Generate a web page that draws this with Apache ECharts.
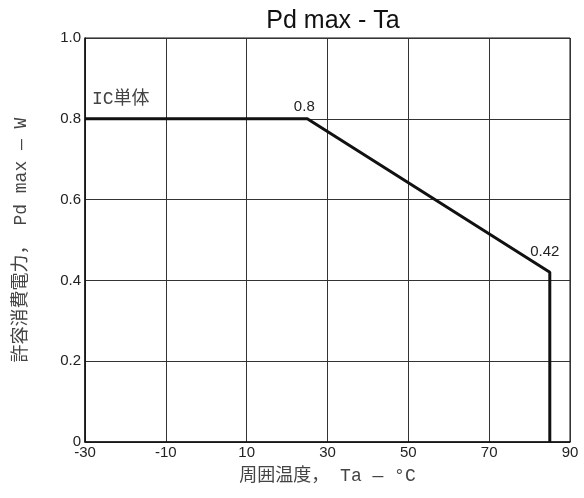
<!DOCTYPE html>
<html><head><meta charset="utf-8">
<script src="https://cdn.jsdelivr.net/npm/echarts@6/dist/echarts.min.js"></script>
<style>html,body{margin:0;padding:0;background:#fff}#c{width:584px;height:498px}</style>
</head><body><div id="c"></div>
<script>
const titleText = 'Pd max - Ta';
const xTicks = [-30, -10, 10, 30, 50, 70, 90];
const yTicks = [0, 0.2, 0.4, 0.6, 0.8, 1.0];
const tempX = [-30, 25, 85, 85];
const powerY = [0.8, 0.8, 0.42, 0];
const annoText = ['IC単体', '0.8', '0.42'];
const annoX = [-30, 25, 85];
const annoY = [0.8, 0.8, 0.42];
const xName = '周囲温度， Ta — °C';
const yName = '許容消費電力， Pd max — W';

const mono = '"Liberation Mono","Noto Sans CJK JP",monospace';
const sans = '"Liberation Sans",Arial,sans-serif';
const chart = echarts.init(document.getElementById('c'));
chart.setOption({
  animation: false,
  title: { text: titleText, left: 328, top: 4, textAlign: 'center',
    textStyle: { fontFamily: sans, fontWeight: 'normal', fontSize: 25, color: '#111' } },
  grid: { left: 85, right: 14, top: 38, bottom: 56, show: true, borderColor: '#111', borderWidth: 1 },
  xAxis: {
    type: 'value', min: -30, max: 90, interval: 20,
    axisLine: { show: true, onZero: false, lineStyle: { color: '#111', width: 1.5 } },
    axisTick: { show: false },
    splitLine: { show: true, lineStyle: { color: '#333', width: 1 } },
    axisLabel: { fontFamily: sans, fontSize: 15, color: '#222', margin: 3,
      formatter: v => xTicks.includes(v) ? String(v) : '' },
    name: xName, nameLocation: 'middle', nameGap: 25,
    nameTextStyle: { fontFamily: mono, fontSize: 18, color: '#444' }
  },
  yAxis: {
    type: 'value', min: 0, max: 1.0, interval: 0.2,
    axisLine: { show: true, onZero: false, lineStyle: { color: '#111', width: 1.5 } },
    axisTick: { show: false },
    splitLine: { show: true, lineStyle: { color: '#333', width: 1 } },
    axisLabel: { fontFamily: sans, fontSize: 15, color: '#222', margin: 4,
      formatter: v => { const t = yTicks.find(y => Math.abs(y - v) < 1e-9); return t === undefined ? '' : (t === 0 ? '0' : t.toFixed(1)); } },
    name: yName, nameLocation: 'middle', nameGap: 55, nameRotate: 90,
    nameTextStyle: { fontFamily: mono, fontSize: 18, color: '#444' }
  },
  series: [{
    type: 'line', data: tempX.map((x, i) => [x, powerY[i]]),
    symbol: 'none', lineStyle: { color: '#111', width: 3 }, z: 5,
    markPoint: {
      symbol: 'circle', symbolSize: 0,
      data: annoText.map((t, i) => ({
        coord: [annoX[i], annoY[i]], value: t,
        label: {
          show: true, formatter: t,
          fontFamily: i === 0 ? mono : sans, fontSize: i === 0 ? 18 : 15, color: i === 0 ? '#444' : '#222',
          position: 'inside',
          align: i === 0 ? 'left' : 'center',
          offset: i === 0 ? [7, -20] : (i === 1 ? [-3, -12] : [-5, -20])
        }
      }))
    }
  }]
});
</script></body></html>
